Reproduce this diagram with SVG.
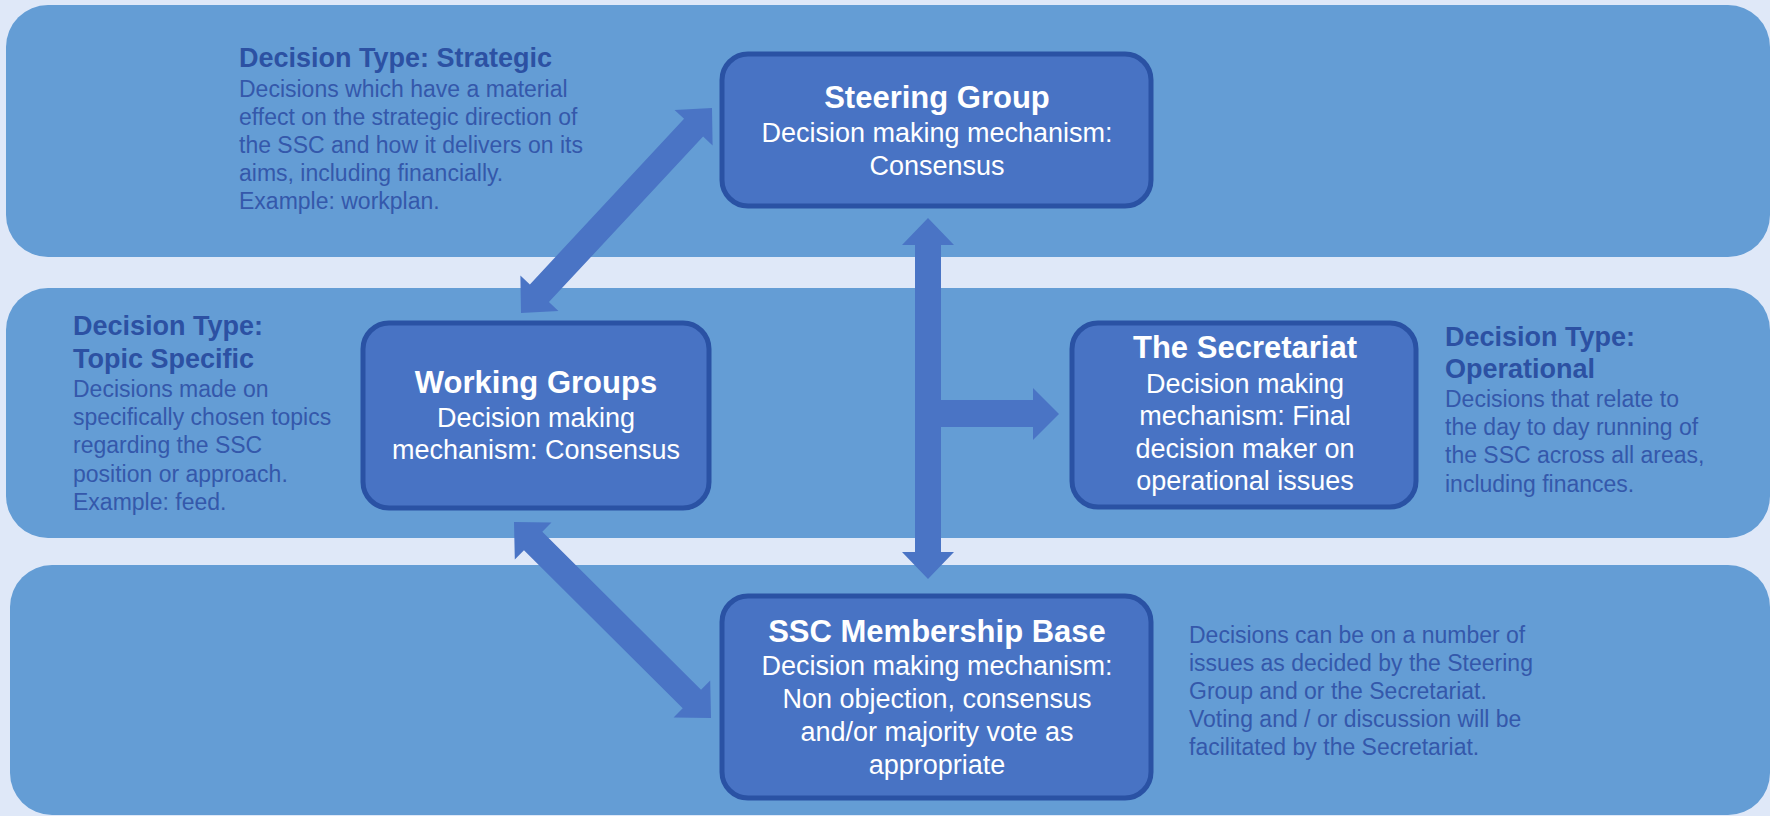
<svg xmlns="http://www.w3.org/2000/svg" width="1770" height="816" viewBox="0 0 1770 816">
  <style>
    .band { fill: #649dd5; }
    .node rect { fill: #4873c4; stroke: #2a52a4; stroke-width: 5; }
    .ntitle { font-family: "Liberation Sans", Arial, sans-serif; font-size: 31px; font-weight: bold; fill: #ffffff; text-anchor: middle; }
    .nbody { font-family: "Liberation Sans", Arial, sans-serif; font-size: 27px; fill: #ffffff; text-anchor: middle; }
    .stitle { font-family: "Liberation Sans", Arial, sans-serif; font-size: 27px; font-weight: bold; fill: #2c51a3; }
    .sbody { font-family: "Liberation Sans", Arial, sans-serif; font-size: 23px; fill: #3458ab; }
    .arrow { fill: #4a74c5; }
  </style>

  <rect width="1770" height="816" fill="#dfe8f8"/>

  <!-- horizontal bands -->
  <g id="bands">
    <rect class="band" x="6" y="5" width="1764" height="252" rx="42"/>
    <rect class="band" x="6" y="288" width="1764" height="250" rx="42"/>
    <rect class="band" x="10" y="565" width="1760" height="250" rx="42"/>
  </g>

  <!-- side descriptions -->
  <g id="desc-strategic">
    <text class="stitle" x="239" y="67">Decision Type: Strategic</text>
    <text class="sbody" x="239" y="97">Decisions which have a material</text>
    <text class="sbody" x="239" y="125">effect on the strategic direction of</text>
    <text class="sbody" x="239" y="153">the SSC and how it delivers on its</text>
    <text class="sbody" x="239" y="181">aims, including financially.</text>
    <text class="sbody" x="239" y="209">Example: workplan.</text>
  </g>
  <g id="desc-topic">
    <text class="stitle" x="73" y="335">Decision Type:</text>
    <text class="stitle" x="73" y="368">Topic Specific</text>
    <text class="sbody" x="73" y="397">Decisions made on</text>
    <text class="sbody" x="73" y="425">specifically chosen topics</text>
    <text class="sbody" x="73" y="453">regarding the SSC</text>
    <text class="sbody" x="73" y="482">position or approach.</text>
    <text class="sbody" x="73" y="510">Example: feed.</text>
  </g>
  <g id="desc-operational">
    <text class="stitle" x="1445" y="346">Decision Type:</text>
    <text class="stitle" x="1445" y="378">Operational</text>
    <text class="sbody" x="1445" y="407">Decisions that relate to</text>
    <text class="sbody" x="1445" y="435">the day to day running of</text>
    <text class="sbody" x="1445" y="463">the SSC across all areas,</text>
    <text class="sbody" x="1445" y="492">including finances.</text>
  </g>
  <g id="desc-membership">
    <text class="sbody" x="1189" y="643">Decisions can be on a number of</text>
    <text class="sbody" x="1189" y="671">issues as decided by the Steering</text>
    <text class="sbody" x="1189" y="699">Group and or the Secretariat.</text>
    <text class="sbody" x="1189" y="727">Voting and / or discussion will be</text>
    <text class="sbody" x="1189" y="755">facilitated by the Secretariat.</text>
  </g>

  <!-- connectors: double-headed block arrows, drawn along +x and rotated into place -->
  <g id="connectors">
    <!-- Working Groups <-> Steering Group -->
    <polygon class="arrow" transform="translate(521 313) rotate(-47.03)"
      points="0,0 27,-26 27,-13 253.2,-13 253.2,-26 280.2,0 253.2,26 253.2,13 27,13 27,26"/>
    <!-- Working Groups <-> SSC Membership Base -->
    <polygon class="arrow" transform="translate(514 522) rotate(44.85)"
      points="0,0 27,-26 27,-13 250.9,-13 250.9,-26 277.9,0 250.9,26 250.9,13 27,13 27,26"/>
    <!-- Steering Group <-> SSC Membership Base -->
    <polygon class="arrow" points="928,218 954,245 941,245 941,552 954,552 928,579 902,552 915,552 915,245 902,245"/>
    <!-- branch to The Secretariat -->
    <polygon class="arrow" points="938,400 1033,400 1033,388 1059,414 1033,440 1033,427 938,427"/>
  </g>

  <!-- nodes -->
  <g id="steering-group" class="node">
    <rect x="722" y="54" width="429" height="152" rx="26"/>
    <text class="ntitle" x="937" y="108">Steering Group</text>
    <text class="nbody" x="937" y="142">Decision making mechanism:</text>
    <text class="nbody" x="937" y="175">Consensus</text>
  </g>
  <g id="working-groups" class="node">
    <rect x="363" y="323" width="346" height="185" rx="26"/>
    <text class="ntitle" x="536" y="393">Working Groups</text>
    <text class="nbody" x="536" y="427">Decision making</text>
    <text class="nbody" x="536" y="459">mechanism: Consensus</text>
  </g>
  <g id="secretariat" class="node">
    <rect x="1072" y="323" width="344" height="184" rx="26"/>
    <text class="ntitle" x="1245" y="358">The Secretariat</text>
    <text class="nbody" x="1245" y="393">Decision making</text>
    <text class="nbody" x="1245" y="425">mechanism: Final</text>
    <text class="nbody" x="1245" y="458">decision maker on</text>
    <text class="nbody" x="1245" y="490">operational issues</text>
  </g>
  <g id="membership-base" class="node">
    <rect x="722" y="596" width="429" height="202" rx="26"/>
    <text class="ntitle" x="937" y="642">SSC Membership Base</text>
    <text class="nbody" x="937" y="675">Decision making mechanism:</text>
    <text class="nbody" x="937" y="708">Non objection, consensus</text>
    <text class="nbody" x="937" y="741">and/or majority vote as</text>
    <text class="nbody" x="937" y="774">appropriate</text>
  </g>
</svg>
